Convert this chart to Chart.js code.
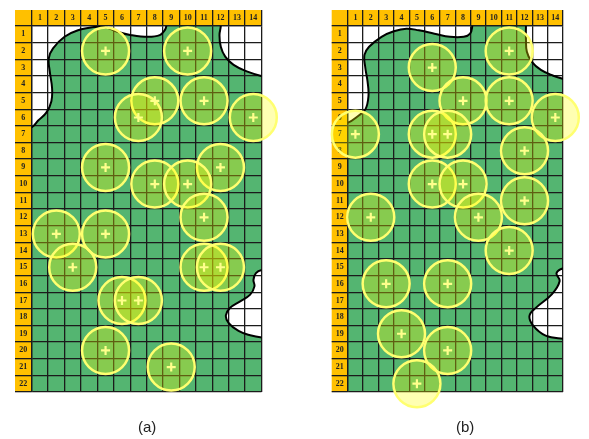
<!DOCTYPE html>
<html>
<head>
<meta charset="utf-8">
<script src="https://cdn.jsdelivr.net/npm/chart.js@4.4.0/dist/chart.umd.min.js"></script>
<style>
  html, body { margin: 0; padding: 0; background: #fff; }
  #wrap { position: relative; width: 589px; height: 439px; overflow: hidden; }
  canvas { position: absolute; left: 0; top: 0; }
  .cap { position: absolute; top: 419px; font: 15px "Liberation Sans", Arial, sans-serif; line-height: 15px; color: #222; }
</style>
</head>
<body>
<div id="wrap">
  <canvas id="chartA" width="589" height="439"></canvas>
  <canvas id="chartB" width="589" height="439"></canvas>
  <div class="cap" style="left:138px">(a)</div>
  <div class="cap" style="left:456px">(b)</div>
</div>
<script>
const colLabels = ['1', '2', '3', '4', '5', '6', '7', '8', '9', '10', '11', '12', '13', '14'];
const rowLabels = ['1', '2', '3', '4', '5', '6', '7', '8', '9', '10', '11', '12', '13', '14', '15',
  '16', '17', '18', '19', '20', '21', '22'];

// circle centres as [column, row]
const circlesA = [[5, 2], [10, 2], [8, 5], [7, 6], [11, 5], [14, 6], [5, 9], [12, 9], [8, 10], [10, 10],
  [11, 12], [2, 13], [5, 13], [3, 15], [11, 15], [12, 15], [6, 17], [7, 17], [5, 20], [9, 21]];
const circlesB = [[11, 2], [6, 3], [8, 5], [11, 5], [14, 6], [1, 7], [6, 7], [7, 7], [12, 8], [6, 10],
  [8, 10], [12, 11], [2, 12], [9, 12], [11, 14], [3, 16], [7, 16], [4, 19], [7, 20], [5, 22]];

// white (uncovered) areas, outline in grid units, closed outside the grid
const topLeftA = [[-1, 6.3], [0.02, 6.07], [0.38, 5.7], [0.89, 5.21], [1.2, 4.52], [1.24, 3.73], [1.1, 2.73],
  [1.04, 1.94], [1.3, 1.35], [2.0, 0.65], [2.82, 0.26], [3.84, 0.06], [4.45, 0.06], [5.26, 0.36],
  [6.07, 0.55], [7.09, 0.65], [7.8, 0.55], [8.1, 0.26], [8.2, 0], [8.3, -1], [-1, -1]];
const topRightA = [[11.52, -1], [11.52, 0], [11.44, 0.55], [11.52, 1.25], [11.79, 1.84], [12.3, 2.34],
  [13.1, 2.73], [13.98, 3.0], [15, 3.2], [15, -1]];
const bottomRightA = [[15, 14.6], [14.02, 14.67], [13.66, 14.86], [13.51, 15.26], [13.57, 15.65],
  [13.31, 16.15], [12.7, 16.55], [12.09, 16.94], [11.83, 17.4], [11.99, 17.84], [12.6, 18.33],
  [13.31, 18.59], [14.02, 18.73], [15, 18.8]];

const topLeftB = [[-1, 6.0], [0.02, 5.81], [0.68, 5.41], [1.15, 5.01], [1.35, 4.22], [1.29, 3.33],
  [1.15, 2.54], [1.09, 1.74], [1.39, 1.25], [2.2, 0.65], [3.0, 0.32], [3.82, 0.16], [4.62, 0.26],
  [5.64, 0.46], [6.65, 0.65], [7.55, 0.65], [7.96, 0.46], [8.1, 0], [8.2, -1], [-1, -1]];
const topRightB = [[11.59, -1], [11.59, 0], [11.59, 0.75], [11.65, 1.55], [11.96, 2.14], [12.56, 2.64],
  [13.37, 2.99], [14.04, 3.19], [15, 3.4], [15, -1]];
const bottomRightB = [[15, 14.5], [14.08, 14.55], [13.58, 14.85], [13.78, 15.34], [13.27, 16.13],
  [12.25, 16.93], [11.82, 17.42], [12.06, 18.01], [12.87, 18.61], [14.08, 18.81], [15, 18.9]];

const GREEN = '#54B571';
const ORANGE = '#FFC000';
const LINE = '#1b1b1b';

const cells = (list) => list.map(([c, r]) => ({ x: c - 0.5, y: r - 0.5 }));
const pts = (list) => list.map(([x, y]) => ({ x, y }));

// top-left orange corner cell
const cornerCell = {
  id: 'cornerCell',
  beforeDraw(chart) {
    const { ctx, scales: { x, y } } = chart;
    ctx.save();
    ctx.fillStyle = ORANGE;
    ctx.fillRect(y.left, x.top, y.right - y.left, x.bottom - x.top);
    ctx.restore();
  }
};

function drawPanel(id, circles, curves, pad, headW, headH) {
  const nx = colLabels.length;
  const ny = rowLabels.length;
  const font = { family: '"Liberation Serif", "Times New Roman", serif', size: 8, weight: 'bold' };

  new Chart(document.getElementById(id), {
    type: 'line',
    data: {
      datasets: [
        {
          type: 'scatter',
          data: cells(circles),
          pointStyle: 'cross',
          pointRadius: 4.5,
          pointBorderWidth: 2.2,
          pointBorderColor: '#FFFF8C',
          clip: false
        },
        {
          type: 'bubble',
          data: cells(circles).map(p => ({ x: p.x, y: p.y, r: 23.5 })),
          backgroundColor: 'rgba(255, 255, 0, 0.3)',
          borderColor: '#FFFF70',
          borderWidth: 2.5,
          clip: false
        },
        ...curves.map(c => ({
          data: pts(c),
          borderColor: '#000',
          borderWidth: 2,
          backgroundColor: '#fff',
          fill: 'shape',
          tension: 0.4,
          capBezierPoints: false,
          pointRadius: 0,
          clip: 0
        })),
        {
          data: pts([[0, 0], [nx, 0], [nx, ny], [0, ny]]),
          borderWidth: 0,
          backgroundColor: GREEN,
          fill: 'shape',
          tension: 0,
          pointRadius: 0
        }
      ]
    },
    options: {
      responsive: false,
      animation: false,
      events: [],
      devicePixelRatio: 1,
      layout: { padding: pad },
      plugins: {
        legend: { display: false },
        tooltip: { enabled: false },
        filler: { drawTime: 'beforeDraw' }
      },
      scales: {
        x: {
          type: 'linear',
          position: 'top',
          min: 0,
          max: nx,
          backgroundColor: ORANGE,
          afterBuildTicks: (s) => { s.ticks = colLabels.map((_, i) => ({ value: i + 0.5 })); },
          afterFit: (s) => { s.height = headH; },
          grid: { offset: true, color: LINE, lineWidth: 1.3, tickLength: headH, tickColor: LINE },
          border: { color: LINE, width: 1.3 },
          ticks: {
            autoSkip: false,
            maxRotation: 0,
            padding: -headH / 2 - 4.8,
            color: '#222',
            font: font,
            callback: (v, i) => colLabels[i]
          }
        },
        y: {
          type: 'linear',
          position: 'left',
          reverse: true,
          min: 0,
          max: ny,
          backgroundColor: ORANGE,
          afterBuildTicks: (s) => { s.ticks = rowLabels.map((_, i) => ({ value: i + 0.5 })); },
          afterFit: (s) => { s.width = headW; },
          grid: { offset: true, color: LINE, lineWidth: 1.3, tickLength: headW, tickColor: LINE },
          border: { color: LINE, width: 1.3 },
          ticks: {
            autoSkip: false,
            crossAlign: 'center',
            padding: -headW / 2 - 4,
            color: '#222',
            font: font,
            callback: (v, i) => rowLabels[i]
          }
        }
      }
    },
    plugins: [cornerCell]
  });
}

drawPanel('chartA', circlesA, [topLeftA, topRightA, bottomRightA],
  { left: 15, top: 6, right: 327.5, bottom: 47 }, 16.7, 16);
drawPanel('chartB', circlesB, [topLeftB, topRightB, bottomRightB],
  { left: 331.7, top: 6, right: 10.3, bottom: 47 }, 16, 16);
</script>
</body>
</html>
